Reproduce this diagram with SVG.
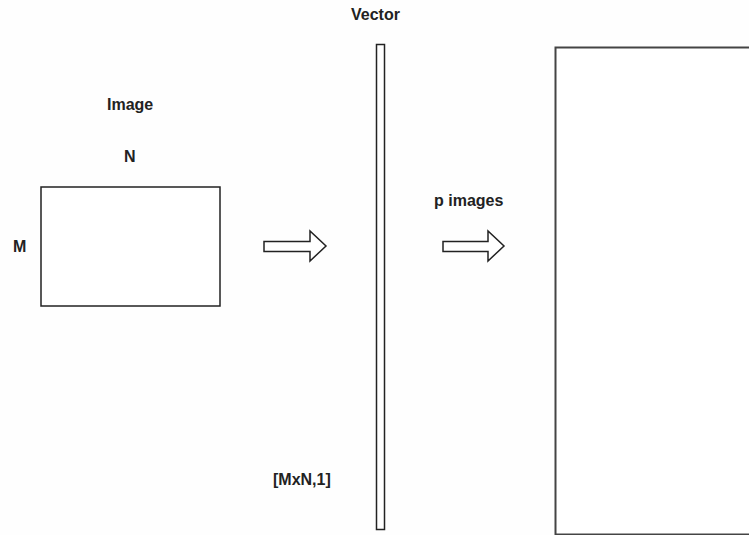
<svg xmlns="http://www.w3.org/2000/svg" width="749" height="535" viewBox="0 0 749 535">
<style>
.t{font-family:"Liberation Sans",Arial,sans-serif;font-weight:bold;font-size:16px;fill:#222}
.s{fill:#fff;stroke:#222;stroke-width:1.5}
</style>
<rect width="749" height="535" fill="#fefefe"/>
<g id="image">
<rect class="s" x="41" y="187" width="179" height="119"/>
<text class="t" x="107" y="110">Image</text>
<text class="t" x="124" y="162">N</text>
<text class="t" x="13" y="252">M</text>
</g>
<g id="vector">
<rect class="s" x="376.5" y="44.5" width="8" height="485"/>
<text class="t" x="351" y="20">Vector</text>
<text class="t" x="273" y="485">[MxN,1]</text>
</g>
<g id="images">
<rect x="555.5" y="47.5" width="200" height="487" fill="#fff" stroke="#444" stroke-width="2"/>
</g>
<g id="connectors">
<path class="s" d="M264,241.5 H310 V231 L326,246 L310,261 V251.5 H264 Z"/>
<text class="t" x="434" y="206">p images</text>
<path class="s" d="M443,241.5 H488 V231 L504,246 L488,261 V251.5 H443 Z"/>
</g>
</svg>
